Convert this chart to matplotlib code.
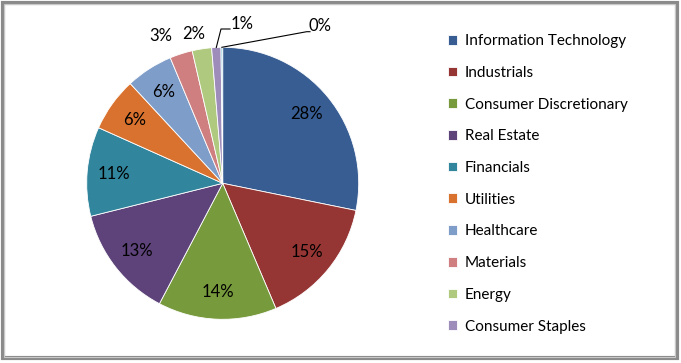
import matplotlib
matplotlib.use("Agg")
import matplotlib.pyplot as plt
from matplotlib.patches import Rectangle
import numpy as np

plt.rcParams['font.family'] = ['Lato', 'DejaVu Sans']

categories = ["Information Technology", "Industrials", "Consumer Discretionary",
              "Real Estate", "Financials", "Utilities", "Healthcare", "Materials",
              "Energy", "Consumer Staples", "Other"]
values = [28.2, 15.4, 14.1, 13.4, 10.6, 6.4, 5.6, 2.7, 2.3, 1.1, 0.2]
pct_labels = ["28%", "15%", "14%", "13%", "11%", "6%", "6%", "3%", "2%", "1%", "0%"]
colors = ["#375D93", "#963634", "#779A3C", "#5D4379", "#31859C", "#D8722E",
          "#7F9DC9", "#CF7F7F", "#AFC97E", "#9E8DBB", "#7FC3D6"]
n_legend = 10

W, H = 681, 363
fig = plt.figure(figsize=(W / 100, H / 100), dpi=100)

cx, cy, R = 222.7, 183.3, 136.0
ax = fig.add_axes([(cx - R) / W, (H - cy - R) / H, 2 * R / W, 2 * R / H])
wedges, _ = ax.pie(values, colors=colors, startangle=90, counterclock=False,
                   radius=1.0, wedgeprops=dict(linewidth=0.6, edgecolor="white"))
ax.set_xlim(-1, 1)
ax.set_ylim(-1, 1)
ax.set_aspect("equal")
ax.axis("off")

fs = 12
# inside labels
for w, lab in list(zip(wedges, pct_labels))[:7]:
    a = np.deg2rad((w.theta1 + w.theta2) / 2)
    ax.text(0.8 * np.cos(a), 0.8 * np.sin(a), lab, ha="center", va="center",
            fontsize=fs, color="black")

# outside labels (pixel positions converted to data units)
def px2d(px, py):
    return (px - cx) / R, (cy - py) / R

outer_pos = {7: (161, 36), 8: (194, 34)}
for i, (px, py) in outer_pos.items():
    x, y = px2d(px, py)
    ax.text(x, y, pct_labels[i], ha="center", va="center", fontsize=fs, clip_on=False)

# leader-line labels
leader = {9: [(221, 29), (230, 29), (231, 24)], 10: [(306.7, 31.7), (310, 31.7), (309, 26)]}
for i, pts in leader.items():
    w = wedges[i]
    a = np.deg2rad((w.theta1 + w.theta2) / 2)
    x0, y0 = np.cos(a), np.sin(a)
    (p1, p2, tp) = pts
    x1, y1 = px2d(*p1)
    x2, y2 = px2d(*p2)
    ax.plot([x0, x1, x2], [y0, y1, y2], color="black", lw=0.8, clip_on=False)
    tx, ty = px2d(*tp)
    ax.text(tx, ty, pct_labels[i], ha="left", va="center", fontsize=fs, clip_on=False)

# legend
leg = fig.legend(wedges[:n_legend], categories[:n_legend], loc="upper left",
                 bbox_to_anchor=(442 / W, 1 - 28 / H), frameon=False,
                 fontsize=11, handlelength=0.6, handleheight=0.6, handletextpad=0.5,
                 labelspacing=1.16, borderaxespad=0)

# frame
fig.patches.append(Rectangle((2.5 / W, 5 / H), (W - 7) / W, (H - 7.5) / H,
                             transform=fig.transFigure, fill=False,
                             edgecolor="#8a8a8a", linewidth=3))
fig.patches.append(Rectangle((4 / W, 6.5 / H), (W - 10) / W, (H - 10.5) / H,
                             transform=fig.transFigure, fill=False,
                             edgecolor="#c8c8c8", linewidth=0.8))

fig.savefig("out.png", dpi=100)
